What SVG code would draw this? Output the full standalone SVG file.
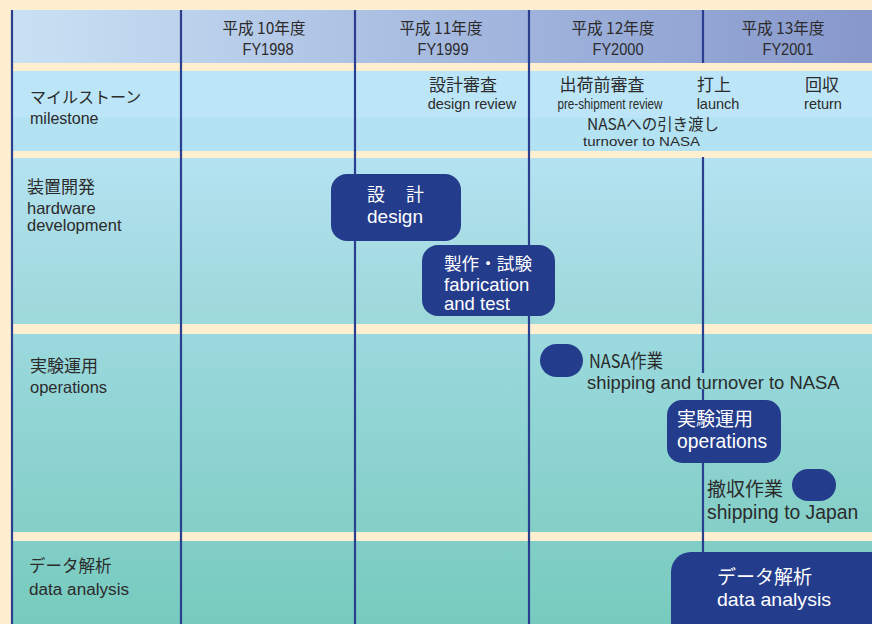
<svg xmlns="http://www.w3.org/2000/svg" width="872" height="624" viewBox="0 0 872 624">
<defs>
<linearGradient id="gHead" x1="12" y1="0" x2="872" y2="0" gradientUnits="userSpaceOnUse">
<stop offset="0" stop-color="#CAE1F4"/>
<stop offset="0.25" stop-color="#B9CEEA"/>
<stop offset="0.5" stop-color="#A6BAE0"/>
<stop offset="0.75" stop-color="#96A9D6"/>
<stop offset="1" stop-color="#8797CB"/>
</linearGradient>
<linearGradient id="gHw" x1="0" y1="158" x2="0" y2="324" gradientUnits="userSpaceOnUse">
<stop offset="0" stop-color="#B4E2F1"/>
<stop offset="1" stop-color="#9DD8DA"/>
</linearGradient>
<linearGradient id="gOps" x1="0" y1="334" x2="0" y2="532" gradientUnits="userSpaceOnUse">
<stop offset="0" stop-color="#9BD9DE"/>
<stop offset="1" stop-color="#84CFC7"/>
</linearGradient>
<linearGradient id="gData" x1="0" y1="541" x2="0" y2="624" gradientUnits="userSpaceOnUse">
<stop offset="0" stop-color="#81CEC7"/>
<stop offset="1" stop-color="#77CBBE"/>
</linearGradient>
</defs>
<style>
.t{font-family:"Liberation Sans","Noto Sans CJK JP",Arial,sans-serif;fill:#2B2B2B}
.j{font-family:"Noto Sans CJK JP","Liberation Sans",sans-serif;fill:#2B2B2B}
.w{fill:#FFFFFF}
.box{fill:#243C8C}
.vl{stroke:#2A3F90;stroke-width:2.2;fill:none}
</style>
<rect width="872" height="624" fill="#FEEFD0"/>
<g id="bands">
<rect x="12" y="10" width="860" height="53" fill="url(#gHead)"/>
<rect x="12" y="71" width="860" height="47" fill="#BCE6F8"/>
<rect x="12" y="118" width="860" height="33" fill="#B3E2F2"/>
<rect x="12" y="158" width="860" height="166" fill="url(#gHw)"/>
<rect x="12" y="334" width="860" height="198" fill="url(#gOps)"/>
<rect x="12" y="541" width="860" height="83" fill="url(#gData)"/>
</g>
<g id="connectors">
<line class="vl" x1="12" y1="10" x2="12" y2="624"/>
<line class="vl" x1="181" y1="10" x2="181" y2="624"/>
<line class="vl" x1="355" y1="10" x2="355" y2="624"/>
<line class="vl" x1="529" y1="10" x2="529" y2="624"/>
<path class="vl" d="M703 10V63M703 157V373M703 389V624"/>
</g>
<g id="header-fy1998">
<text class="j" x="264" y="34" font-size="16" text-anchor="middle" textLength="83" lengthAdjust="spacingAndGlyphs">平成 10年度</text>
<text class="t" x="268" y="55" font-size="16" text-anchor="middle" textLength="51" lengthAdjust="spacingAndGlyphs">FY1998</text>
</g>
<g id="header-fy1999">
<text class="j" x="441" y="34" font-size="16" text-anchor="middle" textLength="83" lengthAdjust="spacingAndGlyphs">平成 11年度</text>
<text class="t" x="443" y="55" font-size="16" text-anchor="middle" textLength="51" lengthAdjust="spacingAndGlyphs">FY1999</text>
</g>
<g id="header-fy2000">
<text class="j" x="613" y="34" font-size="16" text-anchor="middle" textLength="83" lengthAdjust="spacingAndGlyphs">平成 12年度</text>
<text class="t" x="618" y="55" font-size="16" text-anchor="middle" textLength="51" lengthAdjust="spacingAndGlyphs">FY2000</text>
</g>
<g id="header-fy2001">
<text class="j" x="783" y="34" font-size="16" text-anchor="middle" textLength="83" lengthAdjust="spacingAndGlyphs">平成 13年度</text>
<text class="t" x="788" y="55" font-size="16" text-anchor="middle" textLength="51" lengthAdjust="spacingAndGlyphs">FY2001</text>
</g>
<g id="label-milestone">
<text class="j" x="30" y="103" font-size="16">マイルストーン</text>
<text class="t" x="30" y="124" font-size="16">milestone</text>
</g>
<g id="label-hardware">
<text class="j" x="27" y="193" font-size="17">装置開発</text>
<text class="t" x="27" y="214" font-size="16.5">hardware</text>
<text class="t" x="27" y="231" font-size="16.5">development</text>
</g>
<g id="label-operations">
<text class="j" x="30" y="372" font-size="17">実験運用</text>
<text class="t" x="30" y="393" font-size="16.5">operations</text>
</g>
<g id="label-data">
<text class="j" x="29" y="572" font-size="16.5">データ解析</text>
<text class="t" x="29" y="595" font-size="16" textLength="100" lengthAdjust="spacingAndGlyphs">data analysis</text>
</g>
<g id="ms-design-review">
<text class="j" x="463" y="91" font-size="17" text-anchor="middle">設計審査</text>
<text class="t" x="472" y="108.5" font-size="14.5" text-anchor="middle">design review</text>
</g>
<g id="ms-preshipment">
<text class="j" x="602" y="91" font-size="17" text-anchor="middle">出荷前審査</text>
<text class="t" x="610" y="108.5" font-size="14" text-anchor="middle" textLength="105" lengthAdjust="spacingAndGlyphs">pre-shipment review</text>
</g>
<g id="ms-launch">
<text class="j" x="714" y="91" font-size="17" text-anchor="middle">打上</text>
<text class="t" x="718" y="108.5" font-size="14.5" text-anchor="middle">launch</text>
</g>
<g id="ms-return">
<text class="j" x="822" y="91" font-size="17" text-anchor="middle">回収</text>
<text class="t" x="823" y="108.5" font-size="14.5" text-anchor="middle">return</text>
</g>
<g id="ms-turnover">
<text class="j" x="587" y="130" font-size="16" textLength="132" lengthAdjust="spacingAndGlyphs">NASAへの引き渡し</text>
<text class="t" x="583" y="146" font-size="13.5" textLength="117" lengthAdjust="spacingAndGlyphs">turnover   to NASA</text>
</g>
<g id="task-design">
<rect class="box" x="331" y="174" width="130" height="67" rx="16"/>
<text class="j w" y="201" font-size="18"><tspan x="367">設</tspan><tspan x="406">計</tspan></text>
<text class="t w" x="367" y="223" font-size="19">design</text>
</g>
<g id="task-fabrication">
<rect class="box" x="422" y="245" width="133" height="71" rx="16"/>
<text class="j w" x="444" y="270" font-size="17.5" textLength="88" lengthAdjust="spacingAndGlyphs">製作・試験</text>
<text class="t w" x="444" y="290.5" font-size="18.5">fabrication</text>
<text class="t w" x="444" y="309.5" font-size="18.5">and test</text>
</g>
<g id="task-nasa">
<rect class="box" x="540" y="344" width="43" height="33" rx="16.5"/>
<text class="j" x="589" y="368" font-size="19" textLength="74" lengthAdjust="spacingAndGlyphs">NASA作業</text>
<text class="t" x="587" y="389" font-size="18.4">shipping and turnover to NASA</text>
</g>
<g id="task-operations">
<rect class="box" x="667" y="400" width="114" height="63" rx="15"/>
<text class="j w" x="677" y="426" font-size="19">実験運用</text>
<text class="t w" x="677" y="448" font-size="19.3">operations</text>
</g>
<g id="task-return">
<rect class="box" x="792" y="469" width="44" height="32" rx="16"/>
<text class="j" x="707" y="496" font-size="19">撤収作業</text>
<text class="t" x="707" y="518.5" font-size="19.3">shipping to Japan</text>
</g>
<g id="task-data">
<rect class="box" x="671" y="552" width="230" height="100" rx="20"/>
<text class="j w" x="717" y="584" font-size="19">データ解析</text>
<text class="t w" x="717" y="606" font-size="19" textLength="114" lengthAdjust="spacingAndGlyphs">data analysis</text>
</g>
</svg>
